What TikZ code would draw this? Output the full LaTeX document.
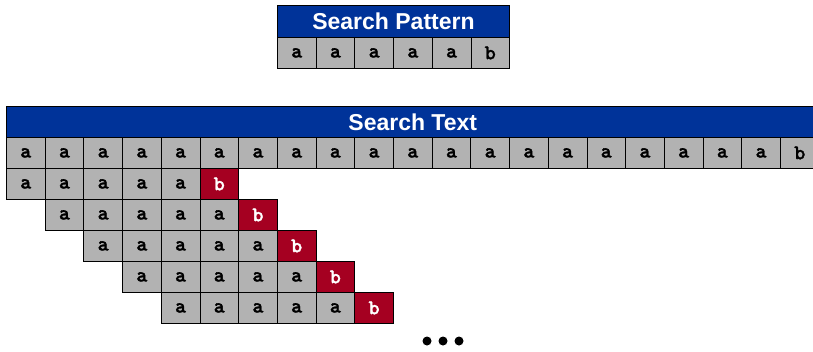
\documentclass[tikz,border=0pt]{standalone}
\usepackage{fontspec}
\setmainfont{Liberation Sans}
\newfontfamily\cellfont{lmmonolt10-bold.otf}[FakeBold=1.5]
\definecolor{hdrblue}{RGB}{0,51,153}
\definecolor{cellgray}{RGB}{178,178,178}
\definecolor{cellred}{RGB}{165,0,33}
\begin{document}
\begin{tikzpicture}[x=1pt,y=-1pt,
  cellbox/.style={draw=black,line width=0.8pt,fill=cellgray,minimum width=38.7pt,minimum height=31pt,inner sep=0pt,anchor=north west,font=\cellfont\fontsize{21}{21}\selectfont,text=black},
  redbox/.style={cellbox,fill=cellred,text=white},
  hdrbox/.style={draw=black,line width=0.8pt,fill=hdrblue,minimum height=32pt,inner sep=0pt,anchor=north west,text=white,font=\bfseries\fontsize{23}{23}\selectfont},
  dotmark/.style={circle,fill=black,inner sep=0pt,minimum size=9pt}]
\clip (0,0) rectangle (813,351);
\fill[white] (0,0) rectangle (813,351);
% Search pattern
\node[hdrbox,minimum width=232.2pt] (phdr) at (277,5) {Search Pattern};
\foreach \i in {0,...,4} {
  \node[cellbox] (p\i) at ({277+38.7*\i},37) {a};
}
\node[cellbox] (p5) at ({277+38.7*5},37) {b};
% Search text
\node[hdrbox,minimum width=812.7pt,minimum height=31pt] (thdr) at (6,106) {Search Text};
\foreach \i in {0,...,19} {
  \node[cellbox] (t\i) at ({6+38.7*\i},137) {a};
}
\node[cellbox] (t20) at ({6+38.7*20},137) {b};
% shifted pattern rows
\foreach \k in {0,...,4} {
  \foreach \i in {0,...,4} {
    \node[cellbox] (r\k c\i) at ({6+38.7*(\k+\i)},{168+31*\k}) {a};
  }
  \node[redbox] (r\k c5) at ({6+38.7*(\k+5)},{168+31*\k}) {b};
}
% ellipsis
\node[dotmark] (d1) at (427,341) {};
\node[dotmark] (d2) at (443,341) {};
\node[dotmark] (d3) at (459,341) {};
\end{tikzpicture}
\end{document}
